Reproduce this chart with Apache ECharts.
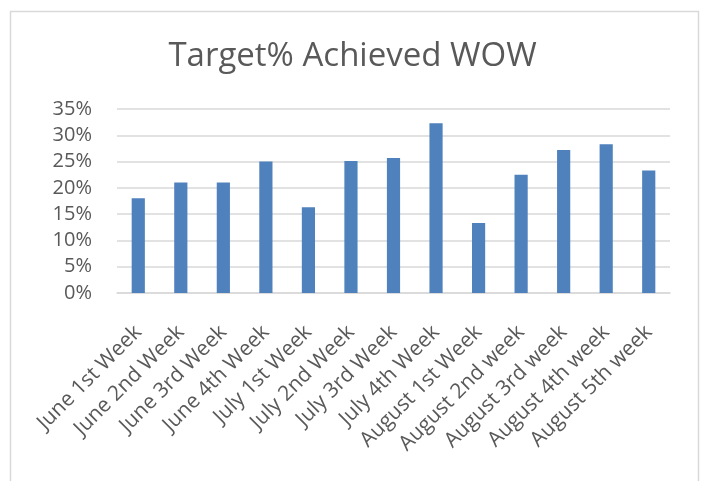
<!DOCTYPE html>
<html>
<head>
<meta charset="utf-8">
<script src="https://cdn.jsdelivr.net/npm/echarts@6/dist/echarts.min.js"></script>
<style>
	html, body { margin: 0; padding: 0; background: #fff; }
	#main { width: 705px; height: 481px; }
</style>
</head>
<body>
<div id="main"></div>
<script>
	var weeks = [
		"June 1st Week", "June 2nd Week", "June 3rd Week", "June 4th Week",
		"July 1st Week", "July 2nd Week", "July 3rd Week", "July 4th Week",
		"August 1st Week", "August 2nd week", "August 3rd week", "August 4th week", "August 5th week"
	];
	// target achieved, as fractions
	var achieved = [0.18, 0.21, 0.21, 0.25, 0.163, 0.251, 0.257, 0.323, 0.133, 0.225, 0.272, 0.283, 0.233];
	var yTicks = { min: 0, max: 0.35, step: 0.05 };

	var textColor = '#595959';
	var lineColor = '#d9d9d9';
	var font = 'Open Sans';

	var myChart = echarts.init(document.getElementById('main'));
	myChart.setOption({
		animation: false,
		backgroundColor: '#fff',
		graphic: [{
			type: 'rect',
			shape: { x: 10.5, y: 11.5, width: 688, height: 480 },
			style: { fill: 'none', stroke: lineColor, lineWidth: 1.5 },
			silent: true
		}],
		title: {
			text: 'Target% Achieved WOW',
			left: 'center',
			top: 35,
			textStyle: { color: textColor, fontFamily: font, fontSize: 33, fontWeight: 'normal' }
		},
		grid: { left: 117, right: 35, top: 109, bottom: 188, containLabel: false },
		xAxis: {
			type: 'category',
			data: weeks,
			axisLine: { lineStyle: { color: lineColor, width: 1.5 } },
			axisTick: { show: false },
			axisLabel: {
				interval: 0,
				rotate: 45,
				margin: 36,
				color: textColor,
				fontFamily: font,
				fontSize: 21
			}
		},
		yAxis: {
			type: 'value',
			min: yTicks.min,
			max: yTicks.max,
			interval: yTicks.step,
			axisLine: { show: false },
			axisTick: { show: false },
			splitLine: { lineStyle: { color: lineColor, width: 1.5 } },
			axisLabel: {
				margin: 25,
				color: textColor,
				fontFamily: font,
				fontSize: 20,
				formatter: function(v){ return Math.round(v * 100) + '%'; }
			}
		},
		series: [{
			type: 'bar',
			data: achieved,
			barWidth: '31%',
			itemStyle: { color: '#4f81bd' }
		}]
	});
</script>
</body>
</html>
